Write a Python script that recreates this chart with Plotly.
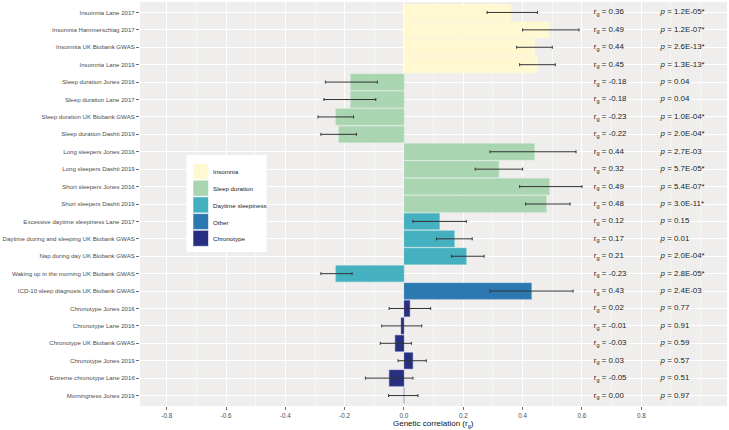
import plotly.graph_objects as go

traits = [
    "Insomnia Lane 2017", "Insomnia Hammerschlag 2017", "Insomnia UK Biobank GWAS", "Insomnia Lane 2019",
    "Sleep duration Jones 2016", "Sleep duration Lane 2017", "Sleep duration UK Biobank GWAS", "Sleep duration Dashti 2019",
    "Long sleepers Jones 2016", "Long sleepers Dashti 2019", "Short sleepers Jones 2016", "Short sleepers Dashti 2019",
    "Excessive daytime sleepiness Lane 2017", "Daytime dozing and sleeping UK Biobank GWAS",
    "Nap during day UK Biobank GWAS", "Waking up in the morning UK Biobank GWAS",
    "ICD-10 sleep diagnosis UK Biobank GWAS",
    "Chronotype Jones 2016", "Chronotype Lane 2016", "Chronotype UK Biobank GWAS", "Chronotype Jones 2019",
    "Extreme chronotype Lane 2016", "Morningness Jones 2019",
]
groups = (["Insomnia"] * 4 + ["Sleep duration"] * 8 + ["Daytime sleepiness"] * 4
          + ["Other"] + ["Chronotype"] * 6)
rg = [0.36, 0.49, 0.44, 0.45,
      -0.18, -0.18, -0.23, -0.22,
      0.44, 0.32, 0.49, 0.48,
      0.12, 0.17, 0.21, -0.23,
      0.43,
      0.02, -0.01, -0.03, 0.03, -0.05, 0.00]
ci_low = [0.28, 0.40, 0.38, 0.39,
          -0.265, -0.27, -0.29, -0.28,
          0.29, 0.24, 0.39, 0.41,
          0.03, 0.11, 0.16, -0.28,
          0.29,
          -0.05, -0.075, -0.08, -0.02, -0.13, -0.052]
ci_high = [0.45, 0.59, 0.50, 0.51,
           -0.09, -0.095, -0.17, -0.16,
           0.58, 0.40, 0.60, 0.56,
           0.21, 0.23, 0.27, -0.175,
           0.57,
           0.09, 0.06, 0.025, 0.075, 0.03, 0.047]
p_labels = ["1.2E-05*", "1.2E-07*", "2.6E-13*", "1.3E-13*",
            "0.04", "0.04", "1.0E-04*", "2.0E-04*",
            "2.7E-03", "5.7E-05*", "5.4E-07*", "3.0E-11*",
            "0.15", "0.01", "2.0E-04*", "2.8E-05*",
            "2.4E-03",
            "0.77", "0.91", "0.59", "0.57", "0.51", "0.97"]
group_order = ["Insomnia", "Sleep duration", "Daytime sleepiness", "Other", "Chronotype"]
group_colors = {
    "Insomnia": "#fff8d1",
    "Sleep duration": "#a9d5b1",
    "Daytime sleepiness": "#45b0c0",
    "Other": "#2c78b0",
    "Chronotype": "#282f80",
}
outline_colors = {
    "Insomnia": "rgba(255,250,215,0.8)",
    "Sleep duration": "rgba(190,225,195,0.8)",
    "Daytime sleepiness": "rgba(120,200,210,0.8)",
    "Other": "rgba(110,160,200,0.8)",
    "Chronotype": "rgba(130,130,190,0.8)",
}
x_ticks = [-0.8, -0.6, -0.4, -0.2, 0.0, 0.2, 0.4, 0.6, 0.8]
x_ticklabels = ["-0.8", "-0.6", "-0.4", "-0.2", "0.0", "0.2", "0.4", "0.6", "0.8"]
rg_text_x = 0.64
p_text_x = 0.865

W, H = 729, 430
ML, MR, MT, MB = 140, 2, 2, 24
PW, PH = W - ML - MR, H - MT - MB


def px_to_paper(px, py):
    return (px - ML) / PW, 1 - (py - MT) / PH


FONT = "Liberation Sans, Arial, sans-serif"

fig = go.Figure()
for g in group_order:
    idx = [i for i, gg in enumerate(groups) if gg == g]
    fig.add_trace(go.Bar(
        x=[rg[i] for i in idx],
        y=[traits[i] for i in idx],
        orientation="h",
        name=g,
        width=0.94,
        marker=dict(color=group_colors[g], line=dict(color=outline_colors[g], width=0.6)),
        error_x=dict(type="data", symmetric=False,
                     array=[ci_high[i] - rg[i] for i in idx],
                     arrayminus=[rg[i] - ci_low[i] for i in idx],
                     color="#333333", thickness=1, width=1.5),
        showlegend=False,
        hoverinfo="skip",
    ))

fig.add_trace(go.Scatter(
    x=[rg_text_x] * len(traits), y=traits, mode="text",
    text=["r<sub>g</sub> = %.2f" % v for v in rg],
    textposition="middle right",
    textfont=dict(family=FONT, size=7.9, color="#222222"),
    showlegend=False, hoverinfo="skip", cliponaxis=False,
))
fig.add_trace(go.Scatter(
    x=[p_text_x] * len(traits), y=traits, mode="text",
    text=["<i>p</i> = " + s for s in p_labels],
    textposition="middle right",
    textfont=dict(family=FONT, size=7.9, color="#222222"),
    showlegend=False, hoverinfo="skip", cliponaxis=False,
))

# manual legend (ggplot-style square keys)
shapes = []
annotations = []
bx0, by0 = px_to_paper(186.5, 155)
bx1, by1 = px_to_paper(266.5, 252)
shapes.append(dict(type="rect", xref="paper", yref="paper", x0=bx0, y0=by0, x1=bx1, y1=by1,
                   fillcolor="white", line=dict(width=0), layer="above"))
for k, g in enumerate(group_order):
    top = 163.5 + k * 16.7
    kx0, ky0 = px_to_paper(193, top)
    kx1, ky1 = px_to_paper(208.5, top + 16)
    shapes.append(dict(type="rect", xref="paper", yref="paper", x0=kx0, y0=ky0, x1=kx1, y1=ky1,
                       fillcolor=group_colors[g], line=dict(color="white", width=0.6), layer="above"))
    tx, ty = px_to_paper(210.5, top + 8.5)
    annotations.append(dict(text=g, xref="paper", yref="paper", x=tx, y=ty,
                            xanchor="left", yanchor="middle", showarrow=False,
                            font=dict(family=FONT, size=6.2, color="#222222")))

tx, ty = px_to_paper(433, 424)
annotations.append(dict(text="Genetic correlation (r<sub>g</sub>)", xref="paper", yref="paper",
                        x=tx, y=ty, xanchor="center", yanchor="middle", showarrow=False,
                        font=dict(family=FONT, size=8, color="#111111")))

fig.update_layout(
    width=W, height=H,
    margin=dict(l=ML, r=MR, t=MT, b=MB, autoexpand=False),
    paper_bgcolor="white",
    plot_bgcolor="#efeeec",
    barmode="overlay",
    font=dict(family=FONT, color="#4d4d4d"),
    showlegend=False,
    hovermode=False,
    shapes=shapes,
    annotations=annotations,
    xaxis=dict(
        range=[-0.89, 1.089],
        automargin=False,
        tickvals=x_ticks, ticktext=x_ticklabels,
        tickfont=dict(size=6.3, color="#4d4d4d"),
        ticks="outside", ticklen=3, tickcolor="#333333", tickwidth=0.7,
        showgrid=True, gridcolor="white", gridwidth=1,
        minor=dict(dtick=0.1, tick0=0, showgrid=True, gridcolor="white", gridwidth=0.5),
        zeroline=False, showline=False,
        fixedrange=True,
    ),
    yaxis=dict(
        type="category",
        automargin=False,
        categoryorder="array", categoryarray=traits,
        range=[len(traits) - 1 + 0.6, -0.6],
        tickfont=dict(size=6.1, color="#4d4d4d"),
        ticks="outside", ticklen=3, tickcolor="#333333", tickwidth=0.7,
        showgrid=True, gridcolor="white", gridwidth=1,
        zeroline=False, showline=False,
        fixedrange=True,
    ),
)

fig.write_html("out.html", config={"displayModeBar": False, "staticPlot": True},
               post_script="document.body.style.margin='0';document.body.style.overflow='hidden';")
